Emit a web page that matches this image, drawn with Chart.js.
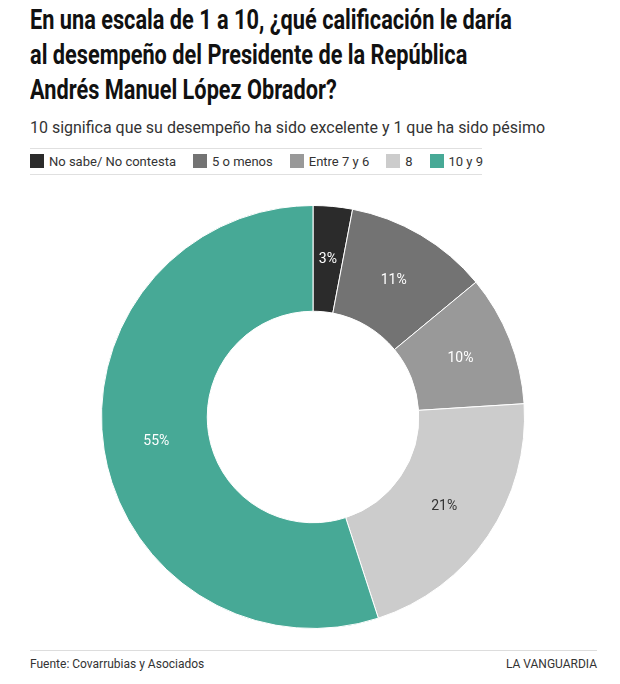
<!DOCTYPE html>
<html><head><meta charset="utf-8">
<script src="https://cdn.jsdelivr.net/npm/chart.js@4"></script>
<style>
body{margin:0;background:#fff;font-family:Roboto,sans-serif;width:620px;height:684px;position:relative;overflow:hidden}
#title{position:absolute;left:30px;top:3px;font-size:27px;font-weight:700;line-height:35px;color:#111;white-space:nowrap;transform-origin:0 0}
#sub{position:absolute;left:30px;top:118px;font-size:16px;color:#333;white-space:nowrap;transform-origin:0 0}
#legend{position:absolute;left:30px;top:148px;width:452px;height:25px;border-top:1px solid #e0e0e0;border-bottom:1px solid #e0e0e0;font-size:13px;color:#333}
#legend span.i{position:absolute;top:5px;display:flex;align-items:center;white-space:nowrap;height:14px}
#legend span.s{width:14px;height:14px;display:inline-block;margin-right:5px}
#wrap{position:absolute;left:91px;top:195px;width:444px;height:444px}
#foot{position:absolute;left:30px;top:650px;width:567px;border-top:1px solid #ddd;font-size:12px;color:#333;padding-top:6px;display:flex;justify-content:space-between}
</style></head><body>
<div id="title"><span id="t1">En una escala de 1 a 10, ¿qué calificación le daría</span><br>al desempeño del Presidente de la República<br>Andrés Manuel López Obrador?</div>
<div id="sub"><span id="s1">10 significa que su desempeño ha sido excelente y 1 que ha sido pésimo</span></div>
<div id="legend"></div>
<div id="wrap"><canvas id="c"></canvas></div>
<div id="foot"><span>Fuente: Covarrubias y Asociados</span><span>LA VANGUARDIA</span></div>
<script>
const categories = ["No sabe/ No contesta","5 o menos","Entre 7 y 6","8","10 y 9"];
const values = [3, 11, 10, 21, 55];
const colors = ["#2b2b2b","#737373","#999999","#cccccc","#47a996"];
const labelColors = ["#ffffff","#ffffff","#ffffff","#333333","#ffffff"];

// condense title/subtitle to reference widths
const t1w = document.getElementById('t1').getBoundingClientRect().width;
document.getElementById('title').style.transform = 'scaleX(' + (482 / t1w) + ')';
const s1w = document.getElementById('s1').getBoundingClientRect().width;
document.getElementById('sub').style.transform = 'scaleX(' + (515 / s1w) + ')';

// legend: flow items left to right with fixed gap
const lg = document.getElementById('legend');
let x = 0;
categories.forEach((c,i)=>{
  const s=document.createElement('span');s.className='i';
  s.innerHTML='<span class="s" style="background:'+colors[i]+'"></span>'+c;
  s.style.left = x + 'px';
  lg.appendChild(s);
  x += s.getBoundingClientRect().width + 17;
});

const labelPlugin = {
  id:'lbl',
  afterDatasetsDraw(chart){
    const ctx=chart.ctx;
    const meta=chart.getDatasetMeta(0);
    ctx.save();
    ctx.font='14px Roboto';
    ctx.textAlign='center';ctx.textBaseline='middle';
    meta.data.forEach((arc,i)=>{
      const p=arc.tooltipPosition();
      ctx.fillStyle=labelColors[i];
      ctx.fillText(values[i]+'%',p.x,p.y);
    });
    ctx.restore();
  }
};

new Chart(document.getElementById('c'),{
  type:'doughnut',
  data:{labels:categories,datasets:[{data:values,backgroundColor:colors,borderColor:'#ffffff',borderWidth:1}]},
  options:{responsive:true,maintainAspectRatio:false,animation:false,cutout:'50%',
    layout:{padding:10},
    plugins:{legend:{display:false},tooltip:{enabled:false}}},
  plugins:[labelPlugin]
});
</script>
</body></html>
